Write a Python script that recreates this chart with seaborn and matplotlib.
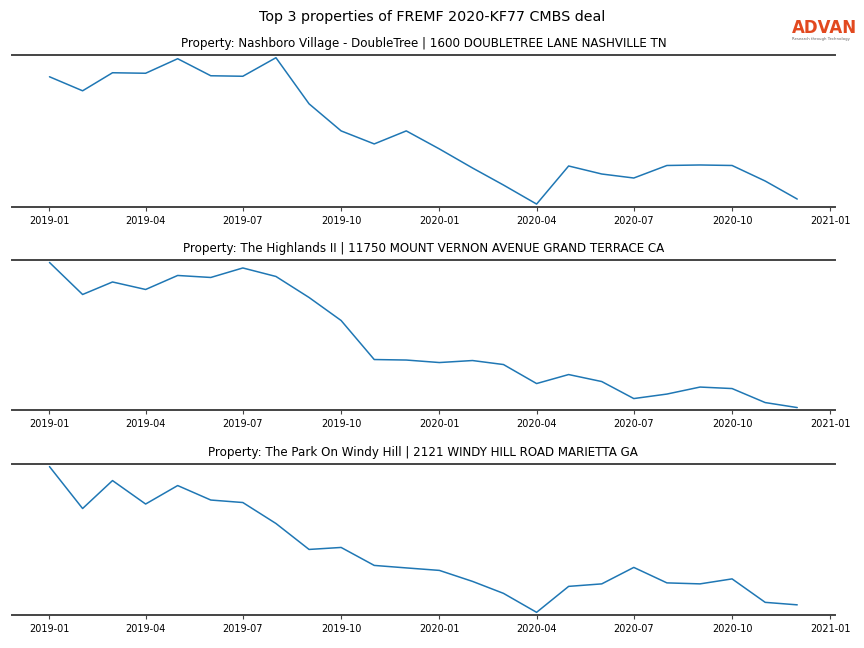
import pandas as pd
import seaborn as sns
import numpy as np
import matplotlib.pyplot as plt
import matplotlib.dates as mdates

sns.set_style("white")
plt.rcParams['font.family'] = ['DejaVu Sans']
plt.rcParams['text.color'] = 'black'
plt.rcParams['xtick.color'] = 'black'

months = pd.date_range("2019-01-01", "2020-12-01", freq="MS")

titles = [
    "Property: Nashboro Village - DoubleTree | 1600 DOUBLETREE LANE NASHVILLE TN",
    "Property: The Highlands II | 11750 MOUNT VERNON AVENUE GRAND TERRACE CA",
    "Property: The Park On Windy Hill | 2121 WINDY HILL ROAD MARIETTA GA",
]

# monthly visits (relative)
nashboro = [129, 115, 133, 132.5, 147, 130, 129.5, 148, 102, 75, 62, 75,
            57, 38, 21, 2, 40, 32, 28, 40.5, 41, 40.5, 25, 7]
highlands = [147, 115, 127.5, 120, 134, 132, 141.5, 133, 112, 89, 50, 49.5,
             47, 49, 45, 26, 35, 28, 11, 15.5, 22.5, 21, 7, 2]
windy_hill = [148, 106, 134, 110.5, 129, 114.5, 112, 91, 65, 67, 49, 46.5,
              44, 33, 21, 2, 28, 30.5, 47, 31.5, 30.5, 35.5, 12, 9.5]

series = [nashboro, highlands, windy_hill]

fig = plt.figure(figsize=(8.64, 6.48), dpi=100)
boxes = [(0.014, 0.681, 0.952, 0.234),
         (0.014, 0.367, 0.952, 0.232),
         (0.014, 0.051, 0.952, 0.233)]

for box, vals, t in zip(boxes, series, titles):
    ax = fig.add_axes(box)
    df = pd.DataFrame({"month": months, "visits": np.array(vals) * 10 + 500})
    sns.lineplot(data=df, x="month", y="visits", ax=ax, color="#1f77b4", linewidth=1.1)
    ax.margins(y=0.018)
    ax.set_title(t, fontsize=8.6, pad=6, color="black")
    ax.set_xlabel("")
    ax.set_ylabel("")
    ax.set_yticks([])
    ax.set_xlim(pd.Timestamp("2018-11-27"), pd.Timestamp("2021-01-05"))
    ax.xaxis.set_major_locator(mdates.MonthLocator(bymonth=[1, 4, 7, 10]))
    ax.xaxis.set_major_formatter(mdates.DateFormatter("%Y-%m"))
    ax.tick_params(axis="x", labelsize=7, length=3, width=0.8, color="#444444", bottom=True)
    for s in ["left", "right"]:
        ax.spines[s].set_visible(False)
    for s in ["top", "bottom"]:
        ax.spines[s].set_visible(True)
        ax.spines[s].set_color("#444444")
        ax.spines[s].set_linewidth(1.4)

fig.suptitle("Top 3 properties of FREMF 2020-KF77 CMBS deal", fontsize=10.3, y=0.985)

# logo
fig.text(0.917, 0.957, "ADVAN", color="#E2491F", fontsize=12, fontweight="bold", ha="left", va="center")
fig.text(0.917, 0.940, "Research through Technology", color="#666666", fontsize=2.8, ha="left", va="center")

plt.savefig("out.png", dpi=100)
